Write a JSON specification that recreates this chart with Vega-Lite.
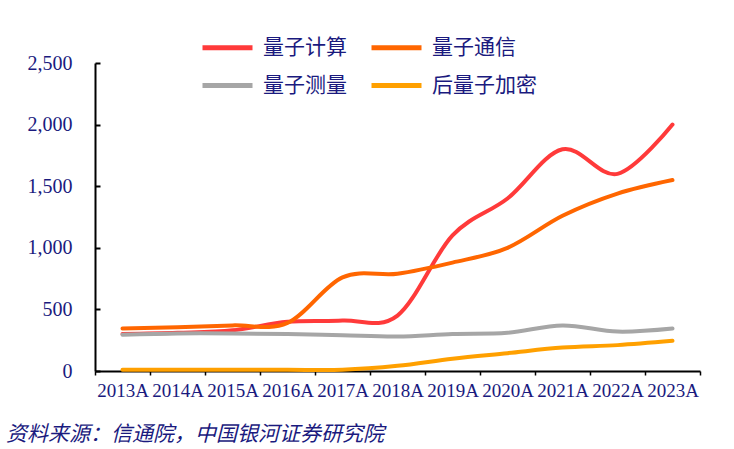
{
  "$schema": "https://vega.github.io/schema/vega-lite/v6.json",
  "width": 605,
  "height": 308,
  "autosize": {"type": "none"},
  "padding": {"left": 95, "top": 63, "right": 34, "bottom": 78},
  "background": "white",
  "title": {
    "text": "资料来源：信通院，中国银河证券研究院",
    "orient": "bottom",
    "anchor": "start",
    "frame": "group",
    "dx": -89,
    "offset": 24,
    "font": "Noto Sans CJK SC",
    "fontSize": 21,
    "fontStyle": "italic",
    "fontWeight": "normal",
    "color": "#1a1a7e"
  },
  "data": {
    "values": [
      {"year": "2013A", "series": "量子计算", "value": 300},
      {"year": "2014A", "series": "量子计算", "value": 310},
      {"year": "2015A", "series": "量子计算", "value": 330},
      {"year": "2016A", "series": "量子计算", "value": 400},
      {"year": "2017A", "series": "量子计算", "value": 410},
      {"year": "2018A", "series": "量子计算", "value": 450},
      {"year": "2019A", "series": "量子计算", "value": 1100},
      {"year": "2020A", "series": "量子计算", "value": 1400},
      {"year": "2021A", "series": "量子计算", "value": 1800},
      {"year": "2022A", "series": "量子计算", "value": 1600},
      {"year": "2023A", "series": "量子计算", "value": 2000},
      {"year": "2013A", "series": "量子通信", "value": 345},
      {"year": "2014A", "series": "量子通信", "value": 355},
      {"year": "2015A", "series": "量子通信", "value": 370},
      {"year": "2016A", "series": "量子通信", "value": 390},
      {"year": "2017A", "series": "量子通信", "value": 760},
      {"year": "2018A", "series": "量子通信", "value": 790},
      {"year": "2019A", "series": "量子通信", "value": 880},
      {"year": "2020A", "series": "量子通信", "value": 1000},
      {"year": "2021A", "series": "量子通信", "value": 1260},
      {"year": "2022A", "series": "量子通信", "value": 1440},
      {"year": "2023A", "series": "量子通信", "value": 1550},
      {"year": "2013A", "series": "量子测量", "value": 295},
      {"year": "2014A", "series": "量子测量", "value": 305},
      {"year": "2015A", "series": "量子测量", "value": 305},
      {"year": "2016A", "series": "量子测量", "value": 300},
      {"year": "2017A", "series": "量子测量", "value": 290},
      {"year": "2018A", "series": "量子测量", "value": 280},
      {"year": "2019A", "series": "量子测量", "value": 300},
      {"year": "2020A", "series": "量子测量", "value": 310},
      {"year": "2021A", "series": "量子测量", "value": 370},
      {"year": "2022A", "series": "量子测量", "value": 320},
      {"year": "2023A", "series": "量子测量", "value": 345},
      {"year": "2013A", "series": "后量子加密", "value": 10},
      {"year": "2014A", "series": "后量子加密", "value": 10},
      {"year": "2015A", "series": "后量子加密", "value": 10},
      {"year": "2016A", "series": "后量子加密", "value": 10},
      {"year": "2017A", "series": "后量子加密", "value": 10},
      {"year": "2018A", "series": "后量子加密", "value": 42},
      {"year": "2019A", "series": "后量子加密", "value": 100},
      {"year": "2020A", "series": "后量子加密", "value": 145},
      {"year": "2021A", "series": "后量子加密", "value": 190},
      {"year": "2022A", "series": "后量子加密", "value": 210},
      {"year": "2023A", "series": "后量子加密", "value": 245}
    ]
  },
  "mark": {"type": "line", "interpolate": "cardinal", "strokeWidth": 4, "strokeCap": "round"},
  "encoding": {
    "x": {
      "field": "year",
      "type": "ordinal",
      "scale": {"paddingInner": 0, "paddingOuter": 0},
      "axis": {
        "title": null,
        "labelAngle": 0,
        "labelFont": "Liberation Serif",
        "labelFontSize": 19,
        "labelColor": "#1a1a7e",
        "labelPadding": 6,
        "domainColor": "black",
        "domainWidth": 2,
        "tickColor": "black",
        "tickWidth": 1.5,
        "tickSize": 4,
        "tickBand": "extent",
        "grid": false
      }
    },
    "y": {
      "field": "value",
      "type": "quantitative",
      "scale": {"domain": [0, 2500]},
      "axis": {
        "title": null,
        "values": [0, 500, 1000, 1500, 2000, 2500],
        "format": ",d",
        "labelFont": "Liberation Serif",
        "labelFontSize": 20,
        "labelColor": "#1a1a7e",
        "labelPadding": 28,
        "domainColor": "black",
        "domainWidth": 2,
        "tickColor": "black",
        "tickWidth": 2,
        "tickSize": -5,
        "grid": false
      }
    },
    "color": {
      "field": "series",
      "type": "nominal",
      "scale": {
        "domain": ["量子计算", "量子通信", "量子测量", "后量子加密"],
        "range": ["#ff3a3a", "#ff6600", "#a6a6a6", "#ffa000"]
      },
      "legend": {
        "title": null,
        "orient": "none",
        "direction": "horizontal",
        "legendX": 105,
        "legendY": -43,
        "columns": 2,
        "symbolType": "stroke",
        "symbolSize": 2500,
        "symbolStrokeWidth": 5,
        "labelFont": "Noto Sans CJK SC",
        "labelFontSize": 21,
        "labelColor": "#1a1a7e",
        "labelOffset": 8,
        "rowPadding": -9,
        "columnPadding": 14
      }
    }
  },
  "config": {"view": {"stroke": null}}
}
